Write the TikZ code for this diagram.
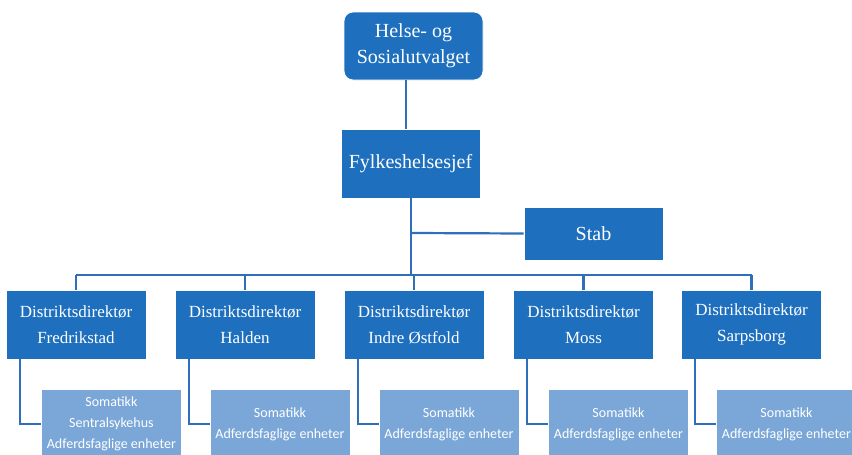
\documentclass[tikz,border=0pt]{standalone}
\usepackage{fontspec}
\setmainfont{Liberation Serif}
\newfontfamily\calibrifont{Carlito}
\usetikzlibrary{positioning}
\definecolor{orgdark}{RGB}{30,112,190}
\definecolor{orglight}{RGB}{122,167,216}
\definecolor{orgline}{RGB}{46,110,186}
\begin{document}
\begin{tikzpicture}
  [
    x = 1pt, y = -1pt,
    unit/.style     = {shape=rectangle, fill=orgdark, draw=white,
                       line width=0.8pt, text=white, align=center,
                       minimum width=140pt, inner sep=0pt},
    director/.style = {unit, minimum height=69pt, font=\fontsize{17}{26}\selectfont},
    section/.style  = {shape=rectangle, fill=orglight, draw=white,
                       line width=0.8pt, text=white, align=center,
                       minimum width=140pt, minimum height=69pt,
                       inner sep=0pt, font=\calibrifont\fontsize{14}{21}\selectfont},
    link/.style     = {draw=orgline, line width=2.2pt}
    ]
    \useasboundingbox (0,0) rectangle (852,455);
    \clip (0,0) rectangle (852,455);
    % top of the chart
    \node [unit, rounded corners=9pt, minimum width=139pt, minimum height=68pt,
           font=\fontsize{20}{26}\selectfont] (utvalg) at (413.5,46)
      {Helse- og\\Sosialutvalget};
    \node [unit, minimum width=139pt, minimum height=69pt,
           font=\fontsize{20}{24}\selectfont] (sjef) at (410.5,163.5) {Fylkeshelsesjef};
    \node [unit, minimum width=139pt, minimum height=53pt,
           font=\fontsize{20}{24}\selectfont] (stab) at (593.5,233.5) {Stab};
    \coordinate (bus) at (411,275);
    \coordinate (stabjoint) at (411,233);
    % districts
    \node [director] (fredrikstad) at (76,324.5)  {Distriktsdirektør\\Fredrikstad};
    \node [director] (halden)      at (245,324.5) {Distriktsdirektør\\Halden};
    \node [director] (indre)       at (414,324.5) {Distriktsdirektør\\Indre Østfold};
    \node [director] (moss)        at (583.5,324.5) {Distriktsdirektør\\Moss};
    \node [director] (sarpsborg)   at (751.5,324.5) {Distriktsdirektør\\Sarpsborg};
    % sections under each district
    \node [section, anchor=north west] (fredrikstadsec) at (41,389)
      {Somatikk\\Sentralsykehus\\Adferdsfaglige enheter};
    \foreach \d in {halden, indre, moss, sarpsborg}
      \node [section, anchor=north west] (\d sec) at ([xshift=35pt, yshift=-30pt]\d.south west)
        {Somatikk\\Adferdsfaglige enheter};
    % connectors
    \draw [link] (406,80) -- (406,129);
    \draw [link] (sjef.south -| bus) -- (bus);
    \draw [link] (stabjoint) -- (stab.west);
    \draw [link] (fredrikstad.north |- bus) -- (sarpsborg.north |- bus);
    \foreach \d in {fredrikstad, halden, indre, moss, sarpsborg} {
      \draw [link] (\d.north |- bus) -- (\d.north);
      \draw [link] ([xshift=14pt]\d.south west) |- (\d sec.west |- 0,424);
    }
\end{tikzpicture}
\end{document}
